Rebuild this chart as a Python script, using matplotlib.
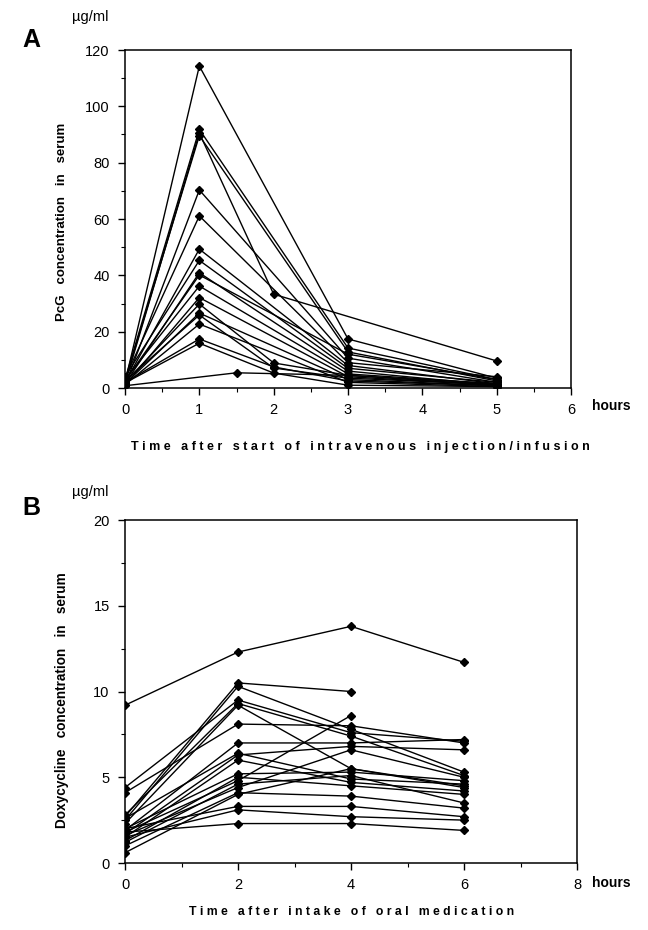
import numpy as np
from matplotlib import pyplot as plt
from matplotlib.ticker import MultipleLocator

plt.rcParams['font.family'] = ['Liberation Sans', 'DejaVu Sans']

# ---------------- Panel A: PcG (penicillin G), i.v. ----------------
# one entry per patient: sampling times (h) and serum levels (ug/ml)
pcg_times = [
    [0, 1, 3, 5],
    [0, 1, 2, 5],
    [0, 1, 3, 5],
    [0, 1, 3, 5],
    [0, 1, 3, 5],
    [0, 1, 3, 5],
    [0, 1, 3, 5],
    [0, 1, 3, 5],
    [0, 1, 3, 5],
    [0, 1, 3, 5],
    [0, 1, 3, 5],
    [0, 1, 3, 5],
    [0, 1, 2, 3, 5],
    [0, 1, 3, 5],
    [0, 1, 2, 3, 5],
    [0, 1, 3, 5],
    [0, 1, 2, 3, 5],
    [0, 1, 2, 3, 5],
    [0, 1.5, 3, 5],
]
pcg_values = [
    [2.0, 114.3, 17.4, 3.5],
    [1.5, 90.5, 33.3, 9.6],
    [3.0, 91.8, 14.2, 3.0],
    [2.5, 89.6, 12.8, 2.5],
    [1.0, 70.3, 10.6, 2.0],
    [3.5, 61.1, 9.0, 4.0],
    [2.0, 49.3, 8.0, 1.5],
    [4.0, 45.3, 7.0, 2.0],
    [1.5, 40.9, 6.0, 1.0],
    [2.5, 40.1, 12.0, 3.0],
    [3.0, 36.2, 5.0, 1.5],
    [1.0, 32.1, 4.0, 1.0],
    [2.0, 29.8, 8.9, 4.5, 1.0],
    [1.5, 26.6, 3.0, 0.8],
    [2.5, 25.9, 7.1, 3.5, 1.2],
    [1.2, 22.7, 2.0, 0.5],
    [2.0, 17.4, 7.5, 2.5, 0.8],
    [1.8, 15.9, 5.3, 1.0, 0.5],
    [0.8, 5.4, 4.5, 1.5],
]

# ---------------- Panel B: doxycycline, oral ----------------
doxy_times = [0, 2, 4, 6]
doxy_values = [
    [9.2, 12.3, 13.8, 11.7],
    [2.7, 10.5, 10.0, np.nan],
    [2.5, 10.3, 7.8, 5.3],
    [4.4, 9.5, 7.6, 7.1],
    [2.8, 9.3, 7.4, 5.1],
    [2.3, 9.2, 5.5, 4.4],
    [4.1, 8.1, 8.0, 7.0],
    [1.9, 7.0, 7.0, 7.2],
    [2.6, 6.4, 4.9, 4.6],
    [1.7, 6.3, 6.8, 6.6],
    [1.5, 6.0, 4.7, 4.2],
    [2.0, 5.2, 5.3, 4.8],
    [1.3, 5.0, 4.5, 4.0],
    [1.8, 4.8, 8.6, np.nan],
    [1.2, 4.6, 5.1, 3.5],
    [1.6, 4.4, 6.6, 5.0],
    [1.0, 4.1, 3.9, 3.2],
    [0.6, 4.0, 5.5, 4.5],
    [2.0, 3.3, 3.3, 2.7],
    [1.5, 3.1, 2.7, 2.5],
    [1.8, 2.3, 2.3, 1.9],
]

W, H = 648, 930
fig = plt.figure(figsize=(W / 100, H / 100), dpi=100)


def px(x, y):
    return x / W, 1 - y / H


def style_axes(ax):
    for s in ax.spines.values():
        s.set_linewidth(1.1)
    ax.tick_params(which='major', direction='out', length=5, width=1, labelsize=10.5, pad=6)
    ax.tick_params(which='minor', direction='out', length=3, width=0.8)


# panel A axes: x 125..571 px, y 50..388 px
axA = fig.add_axes([125 / W, 1 - 388 / H, (571 - 125) / W, (388 - 50) / H])
for t, v in zip(pcg_times, pcg_values):
    axA.plot(t, v, '-', color='black', lw=1.0, marker='D', ms=4.5, mfc='black', mec='black')
axA.set_xlim(0, 6)
axA.set_ylim(0, 120)
axA.xaxis.set_major_locator(MultipleLocator(1))
axA.xaxis.set_minor_locator(MultipleLocator(0.5))
axA.yaxis.set_major_locator(MultipleLocator(20))
axA.yaxis.set_minor_locator(MultipleLocator(10))
style_axes(axA)

# panel B axes: x 125..577 px, y 520..863 px
axB = fig.add_axes([125 / W, 1 - 863 / H, (577 - 125) / W, (863 - 520) / H])
for v in doxy_values:
    axB.plot(doxy_times, v, '-', color='black', lw=1.0, marker='D', ms=4.5, mfc='black', mec='black')
axB.set_xlim(0, 8)
axB.set_ylim(0, 20)
axB.xaxis.set_major_locator(MultipleLocator(2))
axB.xaxis.set_minor_locator(MultipleLocator(1))
axB.yaxis.set_major_locator(MultipleLocator(5))
axB.yaxis.set_minor_locator(MultipleLocator(2.5))
style_axes(axB)

# panel letters, units, labels
fig.text(*px(22, 40), 'A', fontsize=18, fontweight='bold', va='center', ha='left')
fig.text(*px(22, 508), 'B', fontsize=18, fontweight='bold', va='center', ha='left')
fig.text(*px(72, 17), 'µg/ml', fontsize=10.5, va='center', ha='left')
fig.text(*px(72, 492), 'µg/ml', fontsize=10.5, va='center', ha='left')
fig.text(*px(592, 406), 'hours', fontsize=10, fontweight='bold', va='center', ha='left')
fig.text(*px(592, 883), 'hours', fontsize=10, fontweight='bold', va='center', ha='left')

fig.text(*px(360, 447),
         'T i m e   a f t e r   s t a r t   o f   i n t r a v e n o u s   i n j e c t i o n / i n f u s i o n',
         fontsize=9, fontweight='bold', va='center', ha='center')
fig.text(*px(352, 912),
         'T i m e   a f t e r   i n t a k e   o f   o r a l   m e d i c a t i o n',
         fontsize=8.8, fontweight='bold', va='center', ha='center')

fig.text(*px(62, 222), 'PcG   concentration   in   serum', fontsize=9.5,
         fontweight='bold', rotation=90, va='center', ha='center')
fig.text(*px(62, 700), 'Doxycycline   concentration   in   serum',
         fontsize=9.8, fontweight='bold', rotation=90, va='center', ha='center')

fig.savefig('out.png', dpi=100)
